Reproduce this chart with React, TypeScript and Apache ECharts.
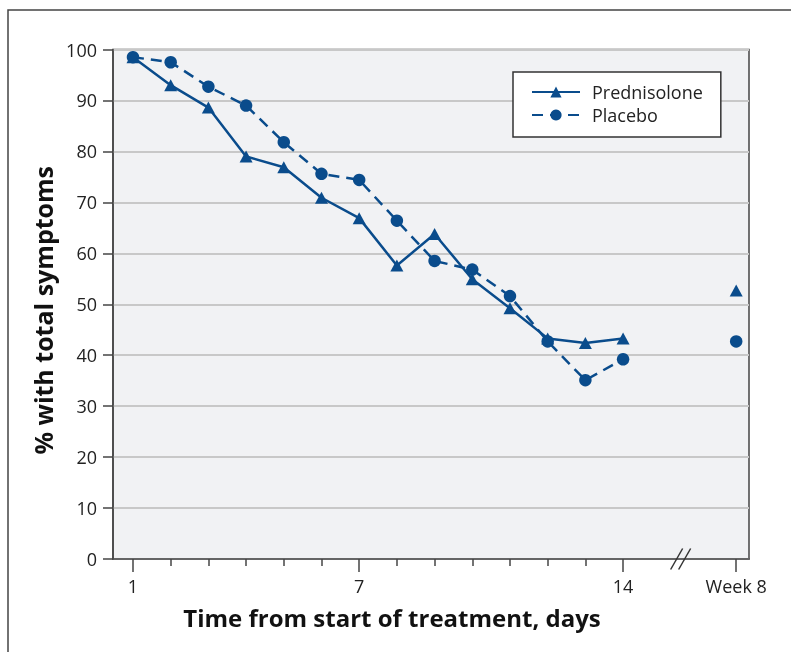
import React, { useEffect, useRef } from "react";
import * as echarts from "echarts";

const days = [1, 2, 3, 4, 5, 6, 7, 8, 9, 10, 11, 12, 13, 14];
const week8Pos = 17;
const breakPos = 15.5;
const majorTicks = [1, 7, 14, 17];
const minorTicks = [2, 3, 4, 5, 6, 8, 9, 10, 11, 12, 13];
const tickLabels: Record<number, string> = { 1: "1", 7: "7", 14: "14", 17: "Week 8" };

const prednisolone = [98.5, 93.0, 88.6, 79.0, 76.9, 70.9, 66.9, 57.6, 63.8, 54.9, 49.2, 43.3, 42.4, 43.3];
const prednisoloneWeek8 = 52.7;
const placebo = [98.5, 97.5, 92.7, 89.0, 81.8, 75.6, 74.4, 66.4, 58.5, 56.8, 51.6, 42.7, 35.1, 39.2];
const placeboWeek8 = 42.7;

const BLUE = "#0a4c8c";
const AXIS = "#444";
const FONT = "'Open Sans', 'Noto Sans', sans-serif";

function buildData(vals: number[], w8: number) {
  const d: any[] = days.map((x, i) => [x, vals[i]]);
  d.push([breakPos, "-"]);
  d.push([week8Pos, w8]);
  return d;
}

export default function App() {
  const ref = useRef<HTMLDivElement>(null);
  useEffect(() => {
    if (!ref.current) return;
    const chart = echarts.init(ref.current, null, { renderer: "svg" });
    const xMin = 0.47;
    const xMax = 17.34;
    chart.setOption({
      animation: false,
      textStyle: { fontFamily: FONT },
      grid: {
        left: 113,
        top: 49.5,
        right: 42,
        bottom: 93,
        show: true,
        backgroundColor: "#f1f2f4",
        borderColor: AXIS,
        borderWidth: 1.5,
      },
      legend: {
        orient: "vertical",
        left: 513,
        top: 72,
        padding: [10, 18, 12, 18],
        borderColor: "#333",
        borderWidth: 1.5,
        backgroundColor: "#fff",
        itemWidth: 48,
        itemHeight: 14,
        itemGap: 3,
        textStyle: { fontSize: 18, color: "#222", lineHeight: 20, padding: [0, 0, 0, 7], fontFamily: FONT },
        data: ["Prednisolone", "Placebo"],
      },
      xAxis: [
        {
          type: "value",
          min: xMin,
          max: xMax,
          position: "bottom",
          axisLine: { show: true, lineStyle: { color: AXIS, width: 1.5 } },
          axisTick: { show: true, customValues: majorTicks, length: 13, lineStyle: { color: AXIS, width: 1.5 } },
          axisLabel: {
            customValues: majorTicks,
            formatter: (v: number) => tickLabels[v] ?? String(v),
            fontSize: 18,
            color: "#222",
            margin: 18,
            fontFamily: FONT,
          },
          splitLine: { show: false },
          name: "Time from start of treatment, days",
          nameLocation: "middle",
          nameGap: 46,
          nameTextStyle: {
            fontSize: 24,
            fontWeight: "bold",
            color: "#111",
            fontFamily: FONT,
            padding: [0, 78, 0, 0],
          },
        },
        {
          type: "value",
          min: xMin,
          max: xMax,
          position: "bottom",
          axisLine: { show: false },
          axisTick: { show: true, customValues: minorTicks, length: 7, lineStyle: { color: AXIS, width: 1.5 } },
          axisLabel: { show: false },
          splitLine: { show: false },
        },
      ],
      yAxis: {
        type: "value",
        min: 0,
        max: 100,
        interval: 10,
        axisLine: { show: true, lineStyle: { color: AXIS, width: 1.5 } },
        axisTick: { show: true, length: 10, lineStyle: { color: AXIS, width: 1.5 } },
        axisLabel: { fontSize: 18, color: "#222", margin: 16, fontFamily: FONT },
        splitLine: { show: true, lineStyle: { color: "#c8c8c8", width: 2 } },
        name: "% with total symptoms",
        nameLocation: "middle",
        nameGap: 57,
        nameTextStyle: {
          fontSize: 25,
          fontWeight: "bold",
          color: "#111",
          fontFamily: FONT,
          padding: [0, 12, 0, 0],
        },
      },
      series: [
        {
          name: "Prednisolone",
          type: "line",
          xAxisIndex: 0,
          data: buildData(prednisolone, prednisoloneWeek8),
          connectNulls: false,
          symbol: "triangle",
          symbolSize: [13, 12],
          lineStyle: { color: BLUE, width: 2.5 },
          itemStyle: { color: BLUE },
          z: 3,
        },
        {
          name: "Placebo",
          type: "line",
          xAxisIndex: 0,
          data: buildData(placebo, placeboWeek8),
          connectNulls: false,
          symbol: "circle",
          symbolSize: 12.5,
          lineStyle: { color: BLUE, width: 2.5, type: [11, 7] },
          itemStyle: { color: BLUE },
          z: 2,
        },
      ],
    });
    const bx = chart.convertToPixel({ xAxisIndex: 0 }, breakPos) as number;
    chart.setOption({
      graphic: [
        {
          type: "rect",
          shape: { x: 8, y: 10, width: 820, height: 700 },
          style: { fill: "none", stroke: "#444", lineWidth: 1.5 },
          silent: true,
          z: -10,
        },
        {
          type: "line",
          shape: { x1: bx - 9, y1: 569.5, x2: bx + 3, y2: 548.5 },
          style: { stroke: "#333", lineWidth: 1.5 },
          z: 10,
        },
        {
          type: "line",
          shape: { x1: bx - 1, y1: 569.5, x2: bx + 11, y2: 548.5 },
          style: { stroke: "#333", lineWidth: 1.5 },
          z: 10,
        },
      ],
    });
    return () => chart.dispose();
  }, []);
  return <div ref={ref} style={{ position: "fixed", left: 0, top: 0, width: 791, height: 652 }} />;
}
